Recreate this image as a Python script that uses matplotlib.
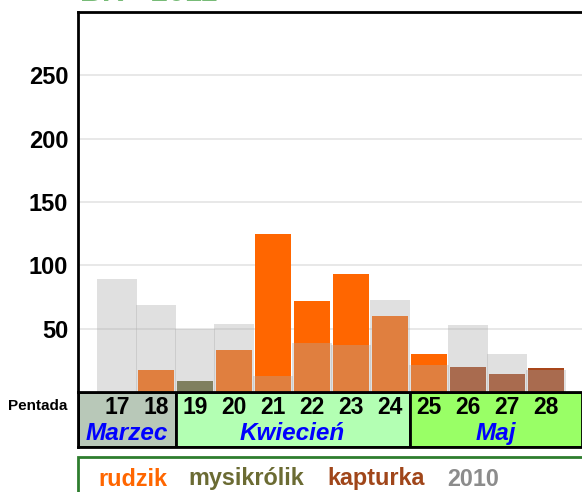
import matplotlib.pyplot as plt
from matplotlib.patches import Rectangle

plt.rcParams['font.family'] = ['Liberation Sans', 'DejaVu Sans']

pentady = [17, 18, 19, 20, 21, 22, 23, 24, 25, 26, 27, 28]
rudzik = [0, 17, 0, 33, 125, 71.5, 93, 60, 30, 0, 0, 0]
mysikrolik = [0, 0, 8.5, 0, 0, 0, 0, 0, 0, 0, 0, 0]
kapturka = [0, 0, 0, 0, 0, 0, 0, 0, 0, 19.7, 14, 18.6]
rok2010 = [89, 69, 50, 54, 13, 39, 37, 73, 21, 53, 29.7, 17]

miesiace = ['Marzec', 'Kwiecień', 'Maj']
granice = [16, 18.5, 24.5, 28.92]
kolory_mies = ['#b8c8b8', '#b3ffb3', '#99ff66']

W, H = 582, 492
fig = plt.figure(figsize=(W / 100, H / 100), dpi=100)

def px(x0, y0, x1, y1):
    # prostokat w pikselach (od gory) -> wspolrzedne figury
    return [x0 / W, 1 - y1 / H, (x1 - x0) / W, (y1 - y0) / H]

ax = fig.add_axes(px(78, 12, 582, 392))
ax.set_xlim(16, 28.92)
ax.set_ylim(0, 300)

ax.bar(pentady, rudzik, width=0.93, color='#ff6600', zorder=2)
ax.bar(pentady, mysikrolik, width=0.93, color='#666633', zorder=2)
ax.bar(pentady, kapturka, width=0.93, color='#a8461a', zorder=2)
ax.bar(pentady, rok2010, width=1.03, color='#acacac', alpha=0.37, zorder=3)

ax.set_yticks([50, 100, 150, 200, 250])
ax.set_yticklabels(['50', '100', '150', '200', '250'], fontsize=17, fontweight='bold')
ax.tick_params(axis='y', length=0, pad=7)
ax.set_xticks([])
ax.grid(axis='y', color='#e4e4e4', lw=1.2, zorder=0)
ax.set_axisbelow(True)
ax.spines['right'].set_visible(False)
ax.spines['bottom'].set_visible(False)
for s in ['left', 'top']:
    ax.spines[s].set_linewidth(2)
    ax.spines[s].set_color('black')

# tabelka z pentadami i miesiacami
tb = fig.add_axes(px(78, 392, 582, 447))
tb.set_xlim(16, 28.92)
tb.set_ylim(0, 2)
tb.set_xticks([])
tb.set_yticks([])
for i, m in enumerate(miesiace):
    x0, x1 = granice[i], granice[i + 1]
    tb.add_patch(Rectangle((x0, 0), x1 - x0, 2, facecolor=kolory_mies[i],
                           edgecolor='black', lw=2))
    tb.text((x0 + x1) / 2, 0.5, m, ha='center', va='center', color='#0000ff',
            fontsize=17.5, fontweight='bold', fontstyle='italic')
for p in pentady:
    tb.text(p, 1.45, str(p), ha='center', va='center', fontsize=16.5, fontweight='bold')
for s in tb.spines.values():
    s.set_linewidth(2)
tb.spines['right'].set_visible(False)
fig.text(8 / W, 1 - 406 / H, 'Pentada', fontsize=11, fontweight='bold', va='center')

# legenda
fig.patches.append(Rectangle((78 / W, 1 - 500 / H), 520 / W, 43 / H,
                             transform=fig.transFigure, facecolor='white',
                             edgecolor='#2e7d2e', lw=2))
leg = [('rudzik', '#ff6600', 98), ('mysikrólik', '#6b6b33', 188),
       ('kapturka', '#a0461a', 327), ('2010', '#8c8c8c', 447)]
for t, c, x in leg:
    fig.text(x / W, 1 - 479 / H, t, color=c, fontsize=16.8, fontweight='bold', va='center')

# tytul (uciety u gory, jak w oryginale)
fig.text(80 / W, 1 - (-7.3) / H, 'BR - 2011', color='#77bb77', fontsize=22,
         fontweight='bold', va='center')

fig.savefig('out.png', dpi=100)
